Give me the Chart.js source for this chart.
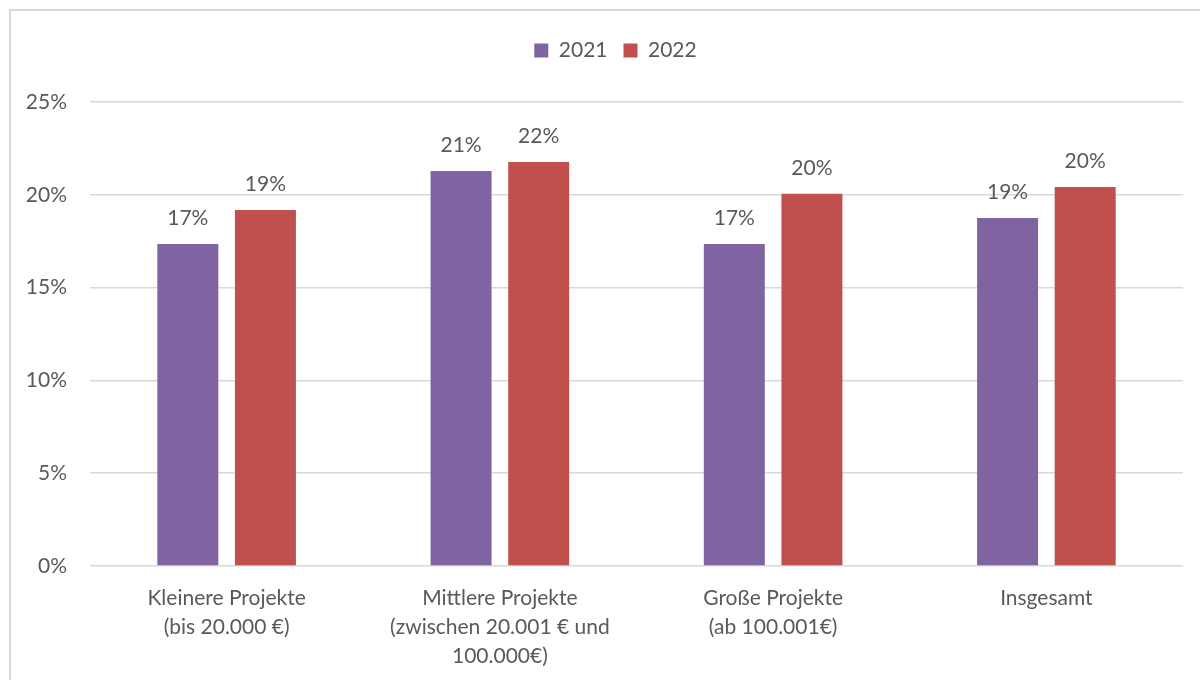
<!DOCTYPE html>
<html lang="de">
<head>
<meta charset="utf-8">
<title>Anteil nach Projektgröße 2021/2022</title>
<script src="https://cdn.jsdelivr.net/npm/chart.js@4/dist/chart.umd.min.js"></script>
<style>
  html, body { margin: 0; padding: 0; background: #fff; }
  #wrap { position: relative; width: 1200px; height: 680px; overflow: hidden; }
  #frame {
    position: absolute; left: 9px; top: 9px; width: 1220px; height: 700px;
    border: 2px solid #dadada; pointer-events: none;
  }
</style>
</head>
<body>
<div id="wrap">
  <canvas id="chart"></canvas>
  <div id="frame"></div>
</div>
<script>
// Kategorien (mehrzeilige Achsenbeschriftungen)
const CATEGORIES = [
  ['Kleinere Projekte', '(bis 20.000 €)'],
  ['Mittlere Projekte', '(zwischen 20.001 € und', '100.000€)'],
  ['Große Projekte', '(ab 100.001€)'],
  'Insgesamt',
];

// Anteile in Prozent
const VALUES_2021 = [17.35, 21.28, 17.35, 18.75];
const VALUES_2022 = [19.18, 21.77, 20.05, 20.42];

const Y_TICKS = [0, 5, 10, 15, 20, 25];

const FONT = { family: 'Lato, "Open Sans", sans-serif', size: 21 };
const TEXT_COLOR = '#595959';
const GRID_COLOR = '#d9d9d9';

// Legende: mehr Abstand nach unten, Mitte über dem gesamten Rahmen
const legendPlacement = {
  id: 'legendPlacement',
  beforeInit(chart) {
    const fit = chart.legend.fit;
    chart.legend.fit = function () {
      fit.call(this);
      this.height += 31;
    };
  },
  afterLayout(chart) {
    chart.legend.left += 24;
    chart.legend.right += 24;
  },
};

// Wertebeschriftung über jedem Balken
const barLabels = {
  id: 'barLabels',
  afterDatasetsDraw(chart) {
    const { ctx } = chart;
    ctx.save();
    ctx.font = `${FONT.size}px ${FONT.family}`;
    ctx.fillStyle = TEXT_COLOR;
    ctx.textAlign = 'center';
    ctx.textBaseline = 'alphabetic';
    chart.data.datasets.forEach((ds, i) => {
      chart.getDatasetMeta(i).data.forEach((bar, j) => {
        ctx.fillText(Math.round(ds.data[j]) + '%', bar.x, bar.y - 19);
      });
    });
    ctx.restore();
  },
};

function buildDatasets() {
  return [
    { label: '2021', data: VALUES_2021, backgroundColor: '#8064a2' },
    { label: '2022', data: VALUES_2022, backgroundColor: '#c0504d' },
  ].map(ds => ({ ...ds, categoryPercentage: 0.568, barPercentage: 0.786 }));
}

function chartOptions() {
  return {
    responsive: true,
    maintainAspectRatio: false,
    animation: false,
    layout: { padding: { top: 24, right: 17, bottom: 0, left: 0 } },
    plugins: {
      legend: {
        position: 'top',
        labels: { color: TEXT_COLOR, font: FONT, boxWidth: 14, boxHeight: 14, padding: 16 },
      },
      tooltip: { enabled: false },
    },
    scales: {
      x: {
        afterFit: scale => { scale.height = 114; },
        grid: { display: false },
        border: { display: false },
        ticks: {
          color: TEXT_COLOR,
          font: { ...FONT, lineHeight: 1.38 },
          maxRotation: 0,
          autoSkip: false,
          padding: 10,
        },
      },
      y: {
        min: 0,
        max: 25,
        afterFit: scale => { scale.width = 90; },
        afterBuildTicks: scale => { scale.ticks = Y_TICKS.map(v => ({ value: v })); },
        grid: { color: GRID_COLOR, lineWidth: 1.5, drawTicks: false },
        border: { display: false },
        ticks: {
          color: TEXT_COLOR,
          font: FONT,
          padding: 23,
          callback: v => v + '%',
        },
      },
    },
  };
}

new Chart(document.getElementById('chart'), {
  type: 'bar',
  data: { labels: CATEGORIES, datasets: buildDatasets() },
  options: chartOptions(),
  plugins: [legendPlacement, barLabels],
});
</script>
</body>
</html>
